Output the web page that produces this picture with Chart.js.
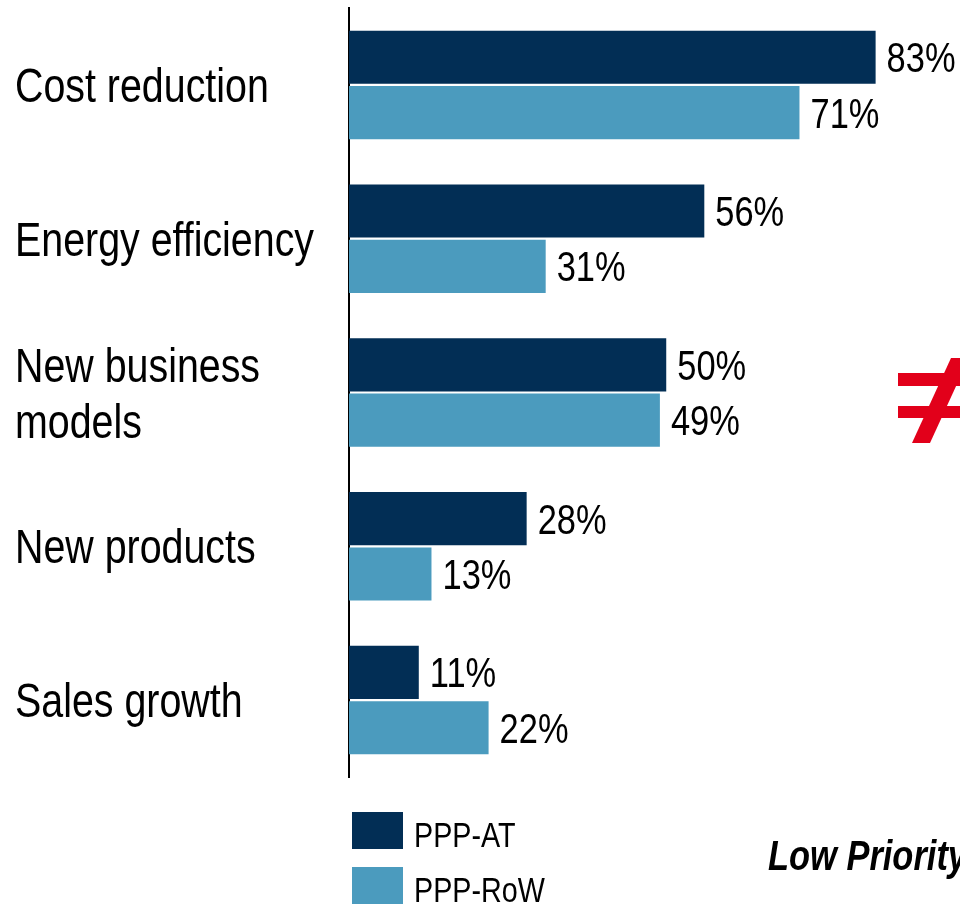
<!DOCTYPE html>
<html lang="en">
<head>
  <meta charset="UTF-8">
  <title>Digitalisation goals: PPP-AT vs PPP-RoW</title>
  <style>
    * { box-sizing: border-box; margin:0; padding:0; }
    body { background:#fff; width:960px; height:905px; overflow:hidden; }
    #wrap { position:relative; width:960px; height:905px; }
  </style>
  <script src="https://cdn.jsdelivr.net/npm/chart.js"></script>
</head>
<body>
  <div id="wrap"><canvas id="goals" width="960" height="905" aria-label="Cost reduction, Energy efficiency, New business models, New products, Sales growth: PPP-AT vs PPP-RoW"></canvas></div>

  <script>
    const categories = [['Cost reduction'], ['Energy efficiency'], ['New business', 'models'], ['New products'], ['Sales growth']];
    const seriesNames = ['PPP-AT', 'PPP-RoW'];
    const pppAT  = [83, 56, 50, 28, 11];
    const pppRoW = [71, 31, 49, 13, 22];
    const note = 'Low Priority';

    const DARK = '#022E55', LIGHT = '#4B9BBE', RED = '#E2001A';

    // narrow face: use a real narrow font if there is one, otherwise squeeze Liberation Sans
    const probe = document.createElement('canvas').getContext('2d');
    function hasFont(name) {
      probe.font = '40px monospace';
      const a = probe.measureText('abcdefghijklmnopqrstuvwxyz').width;
      probe.font = `40px "${name}", monospace`;
      return probe.measureText('abcdefghijklmnopqrstuvwxyz').width !== a;
    }
    let FACE = '"Liberation Sans", Arial, sans-serif', SQUEEZE = 0.82;
    if (hasFont('Liberation Sans Narrow')) { FACE = '"Liberation Sans Narrow"'; SQUEEZE = 1; }
    else if (hasFont('Arial Narrow')) { FACE = '"Arial Narrow"'; SQUEEZE = 1; }

    function say(ctx, str, x, y, size, style, color) {
      ctx.save();
      ctx.translate(x, y);
      ctx.scale(SQUEEZE, 1);
      ctx.font = `${style || ''} ${size}px ${FACE}`;
      ctx.fillStyle = color || '#000';
      ctx.textAlign = 'left';
      ctx.textBaseline = 'alphabetic';
      ctx.fillText(str, 0, 0);
      ctx.restore();
    }

    const extras = {
      id: 'extras',
      afterDatasetsDraw(chart) {
        const ctx = chart.ctx;
        const y = chart.scales.y;

        // category labels
        categories.forEach((lines, i) => {
          const c = y.getPixelForValue(i);
          const start = c + 17 - (lines.length - 1) * 28;
          lines.forEach((ln, k) => say(ctx, ln, 15, start + k * 56, 48));
        });

        // value labels at bar ends
        chart.data.datasets.forEach((ds, d) => {
          chart.getDatasetMeta(d).data.forEach((bar, i) => {
            say(ctx, ds.data[i] + '%', bar.x + 11, bar.y + 15, 42);
          });
        });

        // legend, stacked
        chart.data.datasets.forEach((ds, d) => {
          const top = 812 + d * 55;
          ctx.fillStyle = ds.backgroundColor;
          ctx.fillRect(352, top, 51, 37);
          say(ctx, ds.label, 414, top + 35, 35);
        });

        say(ctx, note, 768, 870, 42, 'italic bold');

        // red "not equal" sign, cut by the right edge
        ctx.save();
        ctx.fillStyle = RED;
        ctx.fillRect(898, 373, 80, 13);
        ctx.fillRect(898, 406, 80, 12);
        ctx.beginPath();
        ctx.moveTo(912, 443); ctx.lineTo(930, 443);
        ctx.lineTo(969, 358); ctx.lineTo(951, 358);
        ctx.closePath();
        ctx.fill();
        ctx.restore();
      }
    };

    new Chart(document.getElementById('goals').getContext('2d'), {
      type: 'bar',
      data: {
        labels: categories,
        datasets: [
          { label: seriesNames[0], data: pppAT, backgroundColor: DARK },
          { label: seriesNames[1], data: pppRoW, backgroundColor: LIGHT }
        ]
      },
      options: {
        indexAxis: 'y',
        responsive: false,
        animation: false,
        devicePixelRatio: 1,
        categoryPercentage: 0.72,
        barPercentage: 0.96,
        layout: { padding: { top: 8, bottom: 128, right: 0, left: 0 } },
        scales: {
          x: { display: false, min: 0, max: 96.3 },
          y: {
            ticks: { display: false },
            grid: { display: false },
            border: { display: true, color: '#000', width: 2 },
            afterFit: s => { s.width = 349; }
          }
        },
        plugins: { legend: { display: false }, tooltip: { enabled: false } }
      },
      plugins: [extras]
    });
  </script>
</body>
</html>
